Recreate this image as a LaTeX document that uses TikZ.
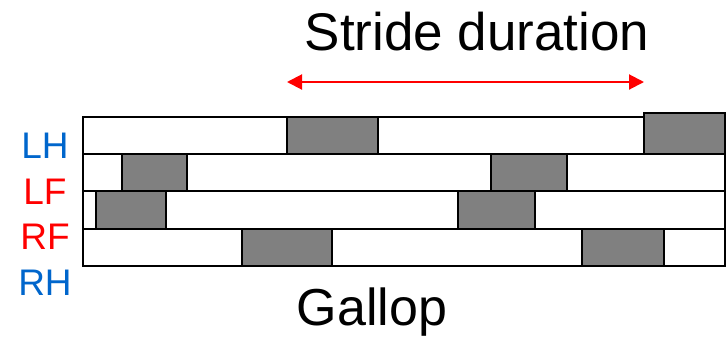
\documentclass[tikz,border=0pt]{standalone}
\usepackage{fontspec}
\setmainfont{Liberation Sans}
\usetikzlibrary{arrows.meta}
\definecolor{hindblue}{RGB}{0,102,204}
\definecolor{forered}{RGB}{255,0,0}
\definecolor{stance}{RGB}{128,128,128}
\begin{document}
\begin{tikzpicture}[x=1pt,y=-1pt,
  rowbar/.style={draw=black,fill=white,line width=1.8pt},
  stancebox/.style={draw=black,fill=stance,line width=1.8pt},
  leglabel/.style={font=\fontsize{37}{40}\selectfont,anchor=base,inner sep=0pt},
  titletext/.style={font=\fontsize{53}{58}\selectfont,anchor=base,inner sep=0pt},
  span/.style={draw=forered,line width=2pt,{Triangle[length=15pt,width=15pt]}-{Triangle[length=15pt,width=15pt]}}]
\useasboundingbox (0,0) rectangle (727,338);
% rows
\draw[rowbar] (83,117) rectangle (725,154);
\draw[rowbar] (83,154) rectangle (725,191);
\draw[rowbar] (83,191) rectangle (725,229);
\draw[rowbar] (83,229) rectangle (725,266);
% stance phases
\draw[stancebox] (287,117) rectangle (378,154);
\draw[stancebox] (644,113) rectangle (725,154);
\draw[stancebox] (122,154) rectangle (187,191);
\draw[stancebox] (491,154) rectangle (567,191);
\draw[stancebox] (96,191) rectangle (166,229);
\draw[stancebox] (458,191) rectangle (535,229);
\draw[stancebox] (242,229) rectangle (332,266);
\draw[stancebox] (582,229) rectangle (664,266);
% labels
\node[leglabel,text=hindblue] (lh) at (45,158) {LH};
\node[leglabel,text=forered] (lf) at (45,204) {LF};
\node[leglabel,text=forered] (rf) at (45,249) {RF};
\node[leglabel,text=hindblue] (rh) at (45,295) {RH};
\node[titletext] (stride) at (477,50) {Stride duration};
\node[font=\fontsize{52}{58}\selectfont,anchor=base,inner sep=0pt] (gallop) at (372,325) {Gallop};
% stride arrow
\coordinate (sa) at (287,82);
\coordinate (sb) at (644,82);
\draw[span] (sa) -- (sb);
\end{tikzpicture}
\end{document}
